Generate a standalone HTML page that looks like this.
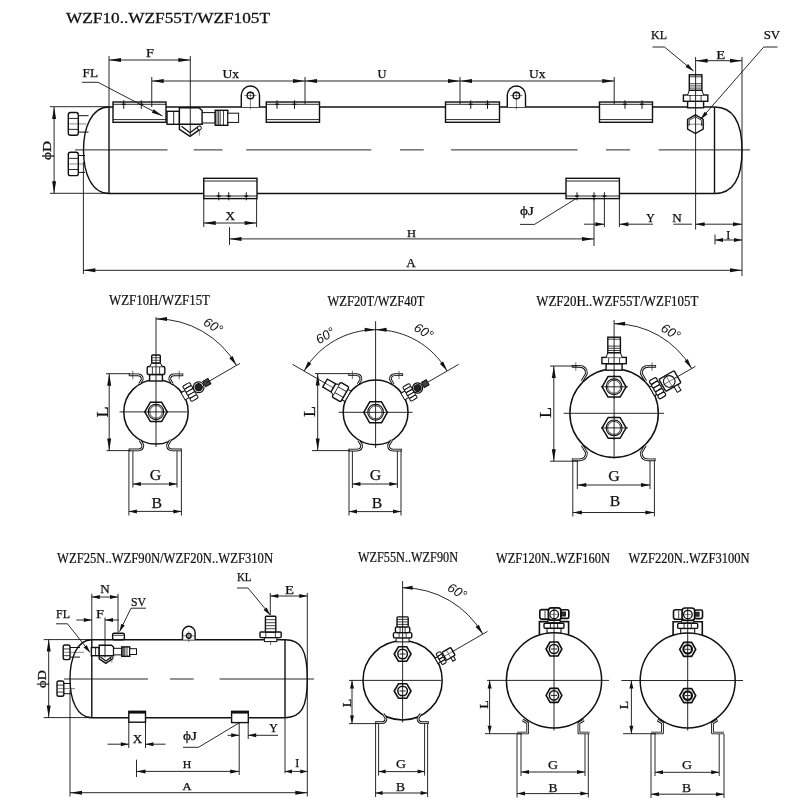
<!DOCTYPE html>
<html><head><meta charset="utf-8"><title>WZF receivers</title>
<style>
html,body{margin:0;padding:0;background:#fff;}
svg{display:block;filter:grayscale(1)}
text{font-family:"Liberation Serif",serif;}
</style></head><body>
<svg width="800" height="801" viewBox="0 0 800 801">
<rect x="0" y="0" width="800" height="801" fill="#fff" stroke="none"/>
<g stroke="#111" fill="none" stroke-linecap="butt">
<text stroke="#111" stroke-width="0.28" fill="#111" x="66.00" y="23.20" font-size="13.6" textLength="204" lengthAdjust="spacingAndGlyphs" >WZF10..WZF55T/WZF105T</text>
<line x1="109.00" y1="107.00" x2="714.50" y2="107.00" stroke-width="1.4" />
<line x1="109.00" y1="193.50" x2="714.50" y2="193.50" stroke-width="1.4" />
<line x1="109.00" y1="107.00" x2="109.00" y2="193.50" stroke-width="1.4" />
<line x1="714.50" y1="107.00" x2="714.50" y2="193.50" stroke-width="1.4" />
<path d="M109,107 C 92,107 83.5,127 83.5,150.2 C 83.5,174 92,193.5 109,193.5" stroke-width="1.4" fill="none" />
<path d="M714.5,107 C 733,107 742,122 742,150.2 C 742,179 733,193.5 714.5,193.5" stroke-width="1.4" fill="none" />
<line x1="75.00" y1="149.90" x2="167.50" y2="149.90" stroke-width="0.9" />
<line x1="193.75" y1="149.90" x2="222.50" y2="149.90" stroke-width="0.9" />
<line x1="246.25" y1="149.90" x2="371.25" y2="149.90" stroke-width="0.9" />
<line x1="400.00" y1="149.90" x2="423.75" y2="149.90" stroke-width="0.9" />
<line x1="451.00" y1="149.90" x2="577.50" y2="149.90" stroke-width="0.9" />
<line x1="606.00" y1="149.90" x2="630.00" y2="149.90" stroke-width="0.9" />
<line x1="658.75" y1="149.90" x2="750.00" y2="149.90" stroke-width="0.9" />
<rect x="113.00" y="102.00" width="53.00" height="20.30" stroke-width="1.4" fill="#fff" rx="0"/>
<line x1="113.00" y1="104.30" x2="166.00" y2="104.30" stroke-width="0.9" />
<line x1="113.00" y1="119.60" x2="166.00" y2="119.60" stroke-width="0.9" />
<line x1="123.75" y1="100.30" x2="123.75" y2="108.80" stroke-width="1.0" />
<line x1="121.75" y1="104.30" x2="125.75" y2="104.30" stroke-width="1.3" />
<line x1="141.25" y1="100.30" x2="141.25" y2="108.80" stroke-width="1.0" />
<line x1="139.25" y1="104.30" x2="143.25" y2="104.30" stroke-width="1.3" />
<rect x="266.25" y="102.00" width="53.25" height="20.30" stroke-width="1.4" fill="#fff" rx="0"/>
<line x1="266.25" y1="104.30" x2="319.50" y2="104.30" stroke-width="0.9" />
<line x1="266.25" y1="119.60" x2="319.50" y2="119.60" stroke-width="0.9" />
<line x1="277.00" y1="100.30" x2="277.00" y2="108.80" stroke-width="1.0" />
<line x1="275.00" y1="104.30" x2="279.00" y2="104.30" stroke-width="1.3" />
<line x1="294.50" y1="100.30" x2="294.50" y2="108.80" stroke-width="1.0" />
<line x1="292.50" y1="104.30" x2="296.50" y2="104.30" stroke-width="1.3" />
<rect x="445.50" y="102.00" width="54.00" height="20.30" stroke-width="1.4" fill="#fff" rx="0"/>
<line x1="445.50" y1="104.30" x2="499.50" y2="104.30" stroke-width="0.9" />
<line x1="445.50" y1="119.60" x2="499.50" y2="119.60" stroke-width="0.9" />
<line x1="470.75" y1="100.30" x2="470.75" y2="108.80" stroke-width="1.0" />
<line x1="468.75" y1="104.30" x2="472.75" y2="104.30" stroke-width="1.3" />
<line x1="487.50" y1="100.30" x2="487.50" y2="108.80" stroke-width="1.0" />
<line x1="485.50" y1="104.30" x2="489.50" y2="104.30" stroke-width="1.3" />
<rect x="599.50" y="102.00" width="53.00" height="20.30" stroke-width="1.4" fill="#fff" rx="0"/>
<line x1="599.50" y1="104.30" x2="652.50" y2="104.30" stroke-width="0.9" />
<line x1="599.50" y1="119.60" x2="652.50" y2="119.60" stroke-width="0.9" />
<line x1="625.00" y1="100.30" x2="625.00" y2="108.80" stroke-width="1.0" />
<line x1="623.00" y1="104.30" x2="627.00" y2="104.30" stroke-width="1.3" />
<line x1="642.00" y1="100.30" x2="642.00" y2="108.80" stroke-width="1.0" />
<line x1="640.00" y1="104.30" x2="644.00" y2="104.30" stroke-width="1.3" />
<rect x="203.75" y="178.30" width="53.25" height="20.30" stroke-width="1.4" fill="#fff" rx="0"/>
<line x1="203.75" y1="181.00" x2="257.00" y2="181.00" stroke-width="0.9" />
<line x1="203.75" y1="196.00" x2="257.00" y2="196.00" stroke-width="0.9" />
<line x1="218.75" y1="192.30" x2="218.75" y2="200.30" stroke-width="1.0" />
<line x1="216.75" y1="196.00" x2="220.75" y2="196.00" stroke-width="1.3" />
<line x1="228.75" y1="192.30" x2="228.75" y2="200.30" stroke-width="1.0" />
<line x1="226.75" y1="196.00" x2="230.75" y2="196.00" stroke-width="1.3" />
<line x1="246.25" y1="192.30" x2="246.25" y2="200.30" stroke-width="1.0" />
<line x1="244.25" y1="196.00" x2="248.25" y2="196.00" stroke-width="1.3" />
<rect x="566.00" y="178.30" width="53.40" height="20.30" stroke-width="1.4" fill="#fff" rx="0"/>
<line x1="566.00" y1="181.00" x2="619.40" y2="181.00" stroke-width="0.9" />
<line x1="566.00" y1="196.00" x2="619.40" y2="196.00" stroke-width="0.9" />
<line x1="577.00" y1="192.30" x2="577.00" y2="200.30" stroke-width="1.0" />
<line x1="575.00" y1="196.00" x2="579.00" y2="196.00" stroke-width="1.3" />
<line x1="594.00" y1="192.30" x2="594.00" y2="200.30" stroke-width="1.0" />
<line x1="592.00" y1="196.00" x2="596.00" y2="196.00" stroke-width="1.3" />
<line x1="604.40" y1="192.30" x2="604.40" y2="200.30" stroke-width="1.0" />
<line x1="602.40" y1="196.00" x2="606.40" y2="196.00" stroke-width="1.3" />
<path d="M241.3,107 L241.3,95.1 A9.1,9.1 0 0 1 259.5,95.1 L259.5,107" stroke-width="1.4" fill="#fff" />
<circle cx="250.40" cy="95.50" r="3.30" stroke-width="1.4" fill="none"/>
<line x1="244.40" y1="95.50" x2="256.40" y2="95.50" stroke-width="0.5" />
<line x1="250.40" y1="91.00" x2="250.40" y2="109.50" stroke-width="0.5" />
<path d="M507.29999999999995,107 L507.29999999999995,95.1 A9.1,9.1 0 0 1 525.5,95.1 L525.5,107" stroke-width="1.4" fill="#fff" />
<circle cx="516.40" cy="95.50" r="3.30" stroke-width="1.4" fill="none"/>
<line x1="510.40" y1="95.50" x2="522.40" y2="95.50" stroke-width="0.5" />
<line x1="516.40" y1="91.00" x2="516.40" y2="109.50" stroke-width="0.5" />
<line x1="78.30" y1="115.70" x2="88.50" y2="115.70" stroke-width="1.0" />
<line x1="78.30" y1="132.10" x2="88.50" y2="132.10" stroke-width="1.0" />
<rect x="68.30" y="112.50" width="10.00" height="22.80" stroke-width="1.4" fill="#fff" rx="2.2"/>
<line x1="68.30" y1="118.43" x2="78.30" y2="118.43" stroke-width="0.9" />
<line x1="68.30" y1="129.37" x2="78.30" y2="129.37" stroke-width="0.9" />
<line x1="69.30" y1="123.90" x2="86.50" y2="123.90" stroke-width="0.5" />
<line x1="78.30" y1="155.50" x2="85.00" y2="155.50" stroke-width="1.0" />
<line x1="78.30" y1="172.40" x2="85.00" y2="172.40" stroke-width="1.0" />
<rect x="68.30" y="152.30" width="10.00" height="23.30" stroke-width="1.4" fill="#fff" rx="2.2"/>
<line x1="68.30" y1="158.36" x2="78.30" y2="158.36" stroke-width="0.9" />
<line x1="68.30" y1="169.54" x2="78.30" y2="169.54" stroke-width="0.9" />
<line x1="69.30" y1="163.95" x2="83.00" y2="163.95" stroke-width="0.5" />
<rect x="167.00" y="111.30" width="12.40" height="13.00" stroke-width="1.4" fill="#fff" rx="0"/>
<line x1="173.70" y1="111.30" x2="173.70" y2="124.30" stroke-width="0.9" />
<path d="M179.4,107.8 L199.0,107.8 L202.2,110.8 L202.2,124.3 L179.4,124.3 Z" stroke-width="1.4" fill="#fff" />
<path d="M179.4,124.3 L179.4,129.3 L190.0,136.4 L200.0,129.3 L200.0,125.8" stroke-width="1.4" fill="none" />
<path d="M181.5,126.3 L190.0,132.8 L198.0,126.8" stroke-width="1.2" fill="none" />
<circle cx="199.40" cy="128.00" r="2.00" stroke-width="1.0" fill="#fff"/>
<line x1="199.40" y1="129.80" x2="199.40" y2="135.80" stroke-width="0.5" />
<rect x="202.20" y="112.60" width="13.00" height="10.40" stroke-width="1.0" fill="#fff" rx="0"/>
<rect x="215.20" y="110.30" width="12.60" height="15.00" stroke-width="1.4" fill="#fff" rx="0"/>
<line x1="217.00" y1="110.30" x2="217.00" y2="125.30" stroke-width="0.8" />
<line x1="218.60" y1="110.30" x2="218.60" y2="125.30" stroke-width="0.8" />
<line x1="220.20" y1="110.30" x2="220.20" y2="125.30" stroke-width="0.8" />
<line x1="223.50" y1="110.30" x2="223.50" y2="125.30" stroke-width="0.8" />
<rect x="227.80" y="113.20" width="10.80" height="9.20" stroke-width="1.0" fill="#fff" rx="0"/>
<rect x="687.60" y="101.30" width="16.00" height="6.50" stroke-width="1.4" fill="#fff" rx="0"/>
<rect x="683.40" y="95.00" width="24.40" height="6.30" stroke-width="1.4" fill="#fff" rx="0"/>
<line x1="690.10" y1="95.00" x2="690.10" y2="101.30" stroke-width="0.8" />
<line x1="701.10" y1="95.00" x2="701.10" y2="101.30" stroke-width="0.8" />
<path d="M687.6,95.0 L689.3000000000001,90.3 L701.9,90.3 L703.6,95.0" stroke-width="1.0" fill="#fff" />
<rect x="689.30" y="74.80" width="12.60" height="15.50" stroke-width="1.4" fill="#fff" rx="0"/>
<line x1="689.30" y1="88.10" x2="701.90" y2="88.10" stroke-width="0.8" />
<line x1="689.30" y1="85.90" x2="701.90" y2="85.90" stroke-width="0.8" />
<line x1="689.30" y1="83.70" x2="701.90" y2="83.70" stroke-width="0.8" />
<line x1="689.30" y1="76.80" x2="701.90" y2="76.80" stroke-width="0.8" />
<polygon points="695.40,114.90 703.20,119.40 703.20,129.00 695.40,133.50 687.60,129.00 687.60,119.40" stroke-width="1.4" fill="#fff"/>
<path d="M689.1999999999999,126.0 L689.1999999999999,120.4 L695.4,116.8 L701.6,120.4 L701.6,126.0" stroke-width="0.8" fill="none" />
<line x1="686.40" y1="124.20" x2="704.40" y2="124.20" stroke-width="0.5" />
<line x1="50.00" y1="106.70" x2="109.00" y2="106.70" stroke-width="0.9" />
<line x1="50.00" y1="193.30" x2="109.00" y2="193.30" stroke-width="0.9" />
<line x1="54.10" y1="107.00" x2="54.10" y2="193.30" stroke-width="0.9" />
<polygon points="54.10,107.00 56.10,119.00 52.10,119.00" fill="#111" stroke="none"/>
<polygon points="54.10,193.30 52.10,181.30 56.10,181.30" fill="#111" stroke="none"/>
<text stroke="#111" stroke-width="0.25" fill="#111" x="51.30" y="150.50" font-size="13" text-anchor="middle" textLength="19" lengthAdjust="spacingAndGlyphs" transform="rotate(-90 51.30 150.50)" >ϕD</text>
<line x1="109.00" y1="56.00" x2="109.00" y2="107.00" stroke-width="0.9" />
<line x1="190.30" y1="56.00" x2="190.30" y2="135.00" stroke-width="0.9" />
<line x1="109.00" y1="60.00" x2="190.30" y2="60.00" stroke-width="0.9" />
<polygon points="109.00,60.00 121.00,58.00 121.00,62.00" fill="#111" stroke="none"/>
<polygon points="190.30,60.00 178.30,62.00 178.30,58.00" fill="#111" stroke="none"/>
<text stroke="#111" stroke-width="0.25" fill="#111" x="150.00" y="57.30" font-size="12" text-anchor="middle" textLength="8" lengthAdjust="spacingAndGlyphs" >F</text>
<text stroke="#111" stroke-width="0.25" fill="#111" x="82.50" y="77.00" font-size="12" textLength="15.5" lengthAdjust="spacingAndGlyphs" >FL</text>
<path d="M82,82.3 L98,82.3 L162.5,116" stroke-width="0.9" fill="none" />
<polygon points="162.50,116.00 151.83,112.68 153.68,109.13" fill="#111" stroke="none"/>
<line x1="151.75" y1="77.00" x2="151.75" y2="107.00" stroke-width="0.9" />
<line x1="305.00" y1="77.00" x2="305.00" y2="104.00" stroke-width="0.9" />
<line x1="460.00" y1="77.00" x2="460.00" y2="104.00" stroke-width="0.9" />
<line x1="614.20" y1="77.00" x2="614.20" y2="104.00" stroke-width="0.9" />
<line x1="151.75" y1="81.00" x2="305.00" y2="81.00" stroke-width="0.9" />
<polygon points="151.75,81.00 163.75,79.00 163.75,83.00" fill="#111" stroke="none"/>
<polygon points="305.00,81.00 293.00,83.00 293.00,79.00" fill="#111" stroke="none"/>
<line x1="305.00" y1="81.00" x2="460.00" y2="81.00" stroke-width="0.9" />
<polygon points="305.00,81.00 317.00,79.00 317.00,83.00" fill="#111" stroke="none"/>
<polygon points="460.00,81.00 448.00,83.00 448.00,79.00" fill="#111" stroke="none"/>
<line x1="460.00" y1="81.00" x2="614.20" y2="81.00" stroke-width="0.9" />
<polygon points="460.00,81.00 472.00,79.00 472.00,83.00" fill="#111" stroke="none"/>
<polygon points="614.20,81.00 602.20,83.00 602.20,79.00" fill="#111" stroke="none"/>
<text stroke="#111" stroke-width="0.25" fill="#111" x="222.50" y="78.30" font-size="12" textLength="16.5" lengthAdjust="spacingAndGlyphs" >Ux</text>
<text stroke="#111" stroke-width="0.25" fill="#111" x="382.00" y="77.50" font-size="12" text-anchor="middle" textLength="9" lengthAdjust="spacingAndGlyphs" >U</text>
<text stroke="#111" stroke-width="0.25" fill="#111" x="529.00" y="78.30" font-size="12" textLength="16.5" lengthAdjust="spacingAndGlyphs" >Ux</text>
<line x1="695.60" y1="57.00" x2="695.60" y2="229.50" stroke-width="0.9" />
<line x1="742.00" y1="57.00" x2="742.00" y2="276.00" stroke-width="0.9" />
<line x1="695.60" y1="60.70" x2="742.00" y2="60.70" stroke-width="0.9" />
<polygon points="695.60,60.70 707.60,58.70 707.60,62.70" fill="#111" stroke="none"/>
<polygon points="742.00,60.70 730.00,62.70 730.00,58.70" fill="#111" stroke="none"/>
<text stroke="#111" stroke-width="0.25" fill="#111" x="720.70" y="58.70" font-size="12" text-anchor="middle" textLength="9" lengthAdjust="spacingAndGlyphs" >E</text>
<text stroke="#111" stroke-width="0.25" fill="#111" x="651.00" y="38.70" font-size="12" textLength="16" lengthAdjust="spacingAndGlyphs" >KL</text>
<path d="M652.5,47 L664.5,47 L693.5,71" stroke-width="0.9" fill="none" />
<polygon points="693.70,71.20 685.49,67.00 688.04,63.92" fill="#111" stroke="none"/>
<text stroke="#111" stroke-width="0.25" fill="#111" x="763.70" y="38.70" font-size="12" textLength="16.5" lengthAdjust="spacingAndGlyphs" >SV</text>
<path d="M777.5,47 L763.75,47 L700.4,119.5" stroke-width="0.9" fill="none" />
<polygon points="700.20,119.80 704.61,111.70 707.62,114.33" fill="#111" stroke="none"/>
<line x1="203.75" y1="199.00" x2="203.75" y2="227.00" stroke-width="0.9" />
<line x1="256.60" y1="199.00" x2="256.60" y2="227.00" stroke-width="0.9" />
<line x1="203.75" y1="223.00" x2="256.60" y2="223.00" stroke-width="0.9" />
<polygon points="203.75,223.00 215.75,221.00 215.75,225.00" fill="#111" stroke="none"/>
<polygon points="256.60,223.00 244.60,225.00 244.60,221.00" fill="#111" stroke="none"/>
<text stroke="#111" stroke-width="0.25" fill="#111" x="230.30" y="220.00" font-size="12" text-anchor="middle" textLength="9.5" lengthAdjust="spacingAndGlyphs" >X</text>
<line x1="229.50" y1="227.00" x2="229.50" y2="245.00" stroke-width="0.9" />
<line x1="594.00" y1="198.60" x2="594.00" y2="246.00" stroke-width="0.9" />
<line x1="229.50" y1="238.90" x2="594.00" y2="238.90" stroke-width="0.9" />
<polygon points="229.50,238.90 241.50,236.90 241.50,240.90" fill="#111" stroke="none"/>
<polygon points="594.00,238.90 582.00,240.90 582.00,236.90" fill="#111" stroke="none"/>
<text stroke="#111" stroke-width="0.25" fill="#111" x="411.50" y="236.80" font-size="11" text-anchor="middle" textLength="9" lengthAdjust="spacingAndGlyphs" >H</text>
<text stroke="#111" stroke-width="0.25" fill="#111" x="520.00" y="215.30" font-size="12" textLength="14" lengthAdjust="spacingAndGlyphs" >ϕJ</text>
<path d="M520,224.4 L534.5,224.4 L576.5,198.3" stroke-width="0.9" fill="none" />
<line x1="604.40" y1="198.60" x2="604.40" y2="227.00" stroke-width="0.9" />
<line x1="619.40" y1="198.60" x2="619.40" y2="227.00" stroke-width="0.9" />
<line x1="584.00" y1="224.20" x2="604.40" y2="224.20" stroke-width="0.9" />
<polygon points="604.40,224.20 595.40,226.20 595.40,222.20" fill="#111" stroke="none"/>
<line x1="619.40" y1="224.20" x2="653.00" y2="224.20" stroke-width="0.9" />
<polygon points="619.40,224.20 628.40,222.20 628.40,226.20" fill="#111" stroke="none"/>
<text stroke="#111" stroke-width="0.25" fill="#111" x="650.50" y="222.00" font-size="12" text-anchor="middle" textLength="8.5" lengthAdjust="spacingAndGlyphs" >Y</text>
<line x1="673.40" y1="224.20" x2="692.00" y2="224.20" stroke-width="0.9" />
<line x1="695.60" y1="224.20" x2="742.00" y2="224.20" stroke-width="0.9" />
<polygon points="695.60,224.20 704.60,222.20 704.60,226.20" fill="#111" stroke="none"/>
<polygon points="742.00,224.20 733.00,226.20 733.00,222.20" fill="#111" stroke="none"/>
<text stroke="#111" stroke-width="0.25" fill="#111" x="677.00" y="222.00" font-size="12" text-anchor="middle" textLength="9.5" lengthAdjust="spacingAndGlyphs" >N</text>
<line x1="715.00" y1="234.60" x2="715.00" y2="244.50" stroke-width="0.9" />
<line x1="715.00" y1="240.00" x2="742.00" y2="240.00" stroke-width="0.9" />
<polygon points="715.00,240.00 723.00,238.00 723.00,242.00" fill="#111" stroke="none"/>
<polygon points="742.00,240.00 734.00,242.00 734.00,238.00" fill="#111" stroke="none"/>
<text stroke="#111" stroke-width="0.25" fill="#111" x="728.30" y="238.80" font-size="12" text-anchor="middle" >I</text>
<line x1="83.40" y1="162.00" x2="83.40" y2="274.00" stroke-width="0.9" />
<line x1="83.40" y1="270.30" x2="742.00" y2="270.30" stroke-width="0.9" />
<polygon points="83.40,270.30 95.40,268.30 95.40,272.30" fill="#111" stroke="none"/>
<polygon points="742.00,270.30 730.00,272.30 730.00,268.30" fill="#111" stroke="none"/>
<text stroke="#111" stroke-width="0.25" fill="#111" x="411.00" y="267.30" font-size="11.5" text-anchor="middle" textLength="9.5" lengthAdjust="spacingAndGlyphs" >A</text>
<text stroke="#111" stroke-width="0.22" fill="#111" x="109.00" y="305.00" font-size="14" textLength="101" lengthAdjust="spacingAndGlyphs" >WZF10H/WZF15T</text>
<circle cx="156.00" cy="411.90" r="32.20" stroke-width="1.5" fill="#fff"/>
<rect x="149.60" y="374.50" width="12.80" height="6.50" stroke-width="1.4" fill="#fff" rx="0"/>
<rect x="147.20" y="366.50" width="17.60" height="8.00" stroke-width="1.4" fill="#fff" rx="1.5"/>
<line x1="152.40" y1="366.50" x2="152.40" y2="374.50" stroke-width="0.8" />
<line x1="159.60" y1="366.50" x2="159.60" y2="374.50" stroke-width="0.8" />
<path d="M150.0,366.5 L151.6,363.0 L160.4,363.0 L162.0,366.5" stroke-width="1.0" fill="#fff" />
<rect x="151.70" y="355.00" width="8.60" height="8.00" stroke-width="1.4" fill="#fff" rx="1"/>
<line x1="151.70" y1="360.30" x2="160.30" y2="360.30" stroke-width="0.7" />
<line x1="151.70" y1="357.70" x2="160.30" y2="357.70" stroke-width="0.7" />
<path d="M129.4,374.8 l8.5,0 q4.37,0 4.37,4.6 l-2.76,4.6" stroke-width="2.7" fill="none" stroke-linejoin="round"/>
<path d="M129.4,374.8 l8.5,0 q4.37,0 4.37,4.6 l-2.76,4.6" stroke-width="0.9" fill="none" stroke="#fff" stroke-linejoin="round"/>
<line x1="129.20" y1="373.45" x2="129.20" y2="376.15" stroke-width="0.9" />
<line x1="132.80" y1="370.80" x2="132.80" y2="379.30" stroke-width="0.6" />
<path d="M182.6,374.8 l-8.5,0 q-4.37,0 -4.37,4.6 l2.76,4.6" stroke-width="2.7" fill="none" stroke-linejoin="round"/>
<path d="M182.6,374.8 l-8.5,0 q-4.37,0 -4.37,4.6 l2.76,4.6" stroke-width="0.9" fill="none" stroke="#fff" stroke-linejoin="round"/>
<line x1="182.80" y1="373.45" x2="182.80" y2="376.15" stroke-width="0.9" />
<line x1="179.20" y1="370.80" x2="179.20" y2="379.30" stroke-width="0.6" />
<path d="M129.2,449.9 l9,0 q4.66,0 4.66,-4.9 l-2.94,-4.9" stroke-width="2.7" fill="none" stroke-linejoin="round"/>
<path d="M129.2,449.9 l9,0 q4.66,0 4.66,-4.9 l-2.94,-4.9" stroke-width="0.9" fill="none" stroke="#fff" stroke-linejoin="round"/>
<line x1="129.00" y1="448.55" x2="129.00" y2="451.25" stroke-width="0.9" />
<path d="M181.2,449.9 l-9,0 q-4.66,0 -4.66,-4.9 l2.94,-4.9" stroke-width="2.7" fill="none" stroke-linejoin="round"/>
<path d="M181.2,449.9 l-9,0 q-4.66,0 -4.66,-4.9 l2.94,-4.9" stroke-width="0.9" fill="none" stroke="#fff" stroke-linejoin="round"/>
<line x1="181.40" y1="448.55" x2="181.40" y2="451.25" stroke-width="0.9" />
<line x1="119.60" y1="411.90" x2="187.50" y2="411.90" stroke-width="0.9" />
<line x1="156.00" y1="317.00" x2="156.00" y2="447.00" stroke-width="0.9" />
<polygon points="144.80,411.90 150.40,402.20 161.60,402.20 167.20,411.90 161.60,421.60 150.40,421.60" stroke-width="1.5" fill="#fff" stroke-linejoin="round"/>
<circle cx="156.00" cy="411.90" r="7.70" stroke-width="1.1" fill="none"/>
<circle cx="156.00" cy="411.90" r="6.30" stroke-width="0.8" fill="none"/>
<line x1="144.00" y1="411.90" x2="168.00" y2="411.90" stroke-width="0.9" />
<line x1="156.00" y1="401.00" x2="156.00" y2="423.00" stroke-width="0.9" />
<g transform="translate(156.00 411.90) rotate(-30)">
<rect x="31.20" y="-4.13" width="5.00" height="8.26" stroke-width="1.0" fill="#fff" rx="0"/>
<rect x="35.70" y="-8.85" width="8.26" height="3.54" stroke-width="1.0" fill="#fff" rx="1.3"/>
<rect x="35.70" y="-5.31" width="8.26" height="3.54" stroke-width="1.0" fill="#fff" rx="1.3"/>
<rect x="35.70" y="-1.77" width="8.26" height="3.54" stroke-width="1.0" fill="#fff" rx="1.3"/>
<rect x="35.70" y="1.77" width="8.26" height="3.54" stroke-width="1.0" fill="#fff" rx="1.3"/>
<rect x="35.70" y="5.31" width="8.26" height="3.54" stroke-width="1.0" fill="#fff" rx="1.3"/>
<circle cx="49.27" cy="0.00" r="5.43" stroke-width="1.2" fill="#fff"/>
<circle cx="49.27" cy="0.00" r="3.66" stroke-width="1.0" fill="#222"/>
<rect x="55.76" y="-3.07" width="5.90" height="6.14" stroke-width="1.0" fill="#444" rx="0"/>
</g>
<path d="M156.00,318.90 A93,93 0 0 1 236.54,365.40" stroke-width="0.9" fill="none" />
<polygon points="156.00,318.90 167.00,316.90 167.00,320.90" fill="#111" stroke="none"/>
<polygon points="236.54,365.40 229.29,358.23 232.61,355.99" fill="#111" stroke="none"/>
<line x1="206.23" y1="382.90" x2="240.00" y2="363.40" stroke-width="0.9" />
<text stroke="#111" stroke-width="0" fill="#111" x="211.00" y="329.50" font-size="13" text-anchor="middle" transform="rotate(31 211.00 329.50)" style='font-family:"Liberation Sans",sans-serif' font-style="italic">60°</text>
<line x1="106.00" y1="373.70" x2="130.00" y2="373.70" stroke-width="0.9" />
<line x1="106.60" y1="450.60" x2="131.00" y2="450.60" stroke-width="0.9" />
<line x1="109.20" y1="373.70" x2="109.20" y2="450.60" stroke-width="0.9" />
<polygon points="109.20,373.70 111.20,385.70 107.20,385.70" fill="#111" stroke="none"/>
<polygon points="109.20,450.60 107.20,438.60 111.20,438.60" fill="#111" stroke="none"/>
<text stroke="#111" stroke-width="0.25" fill="#111" x="107.50" y="412.00" font-size="16" text-anchor="middle" textLength="11" lengthAdjust="spacingAndGlyphs" transform="rotate(-90 107.50 412.00)" >L</text>
<line x1="132.90" y1="451.00" x2="132.90" y2="487.50" stroke-width="0.9" />
<line x1="177.00" y1="451.00" x2="177.00" y2="487.50" stroke-width="0.9" />
<line x1="132.90" y1="484.00" x2="177.00" y2="484.00" stroke-width="0.9" />
<polygon points="132.90,484.00 140.90,482.00 140.90,486.00" fill="#111" stroke="none"/>
<polygon points="177.00,484.00 169.00,486.00 169.00,482.00" fill="#111" stroke="none"/>
<line x1="128.90" y1="451.00" x2="128.90" y2="515.50" stroke-width="0.9" />
<line x1="181.40" y1="451.00" x2="181.40" y2="515.50" stroke-width="0.9" />
<line x1="128.90" y1="511.40" x2="181.40" y2="511.40" stroke-width="0.9" />
<polygon points="128.90,511.40 136.90,509.40 136.90,513.40" fill="#111" stroke="none"/>
<polygon points="181.40,511.40 173.40,513.40 173.40,509.40" fill="#111" stroke="none"/>
<text stroke="#111" stroke-width="0.25" fill="#111" x="155.60" y="479.60" font-size="15" text-anchor="middle" textLength="11.5" lengthAdjust="spacingAndGlyphs" >G</text>
<text stroke="#111" stroke-width="0.25" fill="#111" x="156.80" y="508.00" font-size="15" text-anchor="middle" textLength="10.5" lengthAdjust="spacingAndGlyphs" >B</text>
<text stroke="#111" stroke-width="0.22" fill="#111" x="327.50" y="305.50" font-size="14" textLength="97" lengthAdjust="spacingAndGlyphs" >WZF20T/WZF40T</text>
<circle cx="375.60" cy="412.30" r="32.40" stroke-width="1.5" fill="#fff"/>
<path d="M349,374.7 l7.5,0 q4.46,0 4.46,4.7 l-2.82,4.7" stroke-width="2.7" fill="none" stroke-linejoin="round"/>
<path d="M349,374.7 l7.5,0 q4.46,0 4.46,4.7 l-2.82,4.7" stroke-width="0.9" fill="none" stroke="#fff" stroke-linejoin="round"/>
<line x1="348.80" y1="373.35" x2="348.80" y2="376.05" stroke-width="0.9" />
<line x1="352.40" y1="370.70" x2="352.40" y2="379.20" stroke-width="0.6" />
<path d="M402.4,374.7 l-7.5,0 q-4.46,0 -4.46,4.7 l2.82,4.7" stroke-width="2.7" fill="none" stroke-linejoin="round"/>
<path d="M402.4,374.7 l-7.5,0 q-4.46,0 -4.46,4.7 l2.82,4.7" stroke-width="0.9" fill="none" stroke="#fff" stroke-linejoin="round"/>
<line x1="402.60" y1="373.35" x2="402.60" y2="376.05" stroke-width="0.9" />
<line x1="399.00" y1="370.70" x2="399.00" y2="379.20" stroke-width="0.6" />
<path d="M349,450.1 l8,0 q4.66,0 4.66,-4.9 l-2.94,-4.9" stroke-width="2.7" fill="none" stroke-linejoin="round"/>
<path d="M349,450.1 l8,0 q4.66,0 4.66,-4.9 l-2.94,-4.9" stroke-width="0.9" fill="none" stroke="#fff" stroke-linejoin="round"/>
<line x1="348.80" y1="448.75" x2="348.80" y2="451.45" stroke-width="0.9" />
<path d="M401.2,450.1 l-8,0 q-4.66,0 -4.66,-4.9 l2.94,-4.9" stroke-width="2.7" fill="none" stroke-linejoin="round"/>
<path d="M401.2,450.1 l-8,0 q-4.66,0 -4.66,-4.9 l2.94,-4.9" stroke-width="0.9" fill="none" stroke="#fff" stroke-linejoin="round"/>
<line x1="401.40" y1="448.75" x2="401.40" y2="451.45" stroke-width="0.9" />
<line x1="338.70" y1="412.30" x2="412.50" y2="412.30" stroke-width="0.9" />
<line x1="375.60" y1="321.20" x2="375.60" y2="448.00" stroke-width="0.9" />
<polygon points="363.80,412.30 369.70,401.80 381.50,401.80 387.40,412.30 381.50,422.80 369.70,422.80" stroke-width="1.5" fill="#fff" stroke-linejoin="round"/>
<circle cx="375.60" cy="412.30" r="7.90" stroke-width="1.1" fill="none"/>
<circle cx="375.60" cy="412.30" r="6.50" stroke-width="0.8" fill="none"/>
<line x1="363.00" y1="412.30" x2="388.00" y2="412.30" stroke-width="0.9" />
<line x1="375.60" y1="400.00" x2="375.60" y2="424.00" stroke-width="0.9" />
<g transform="translate(375.60 412.30) rotate(-30)">
<rect x="31.40" y="-3.85" width="5.00" height="7.70" stroke-width="1.0" fill="#fff" rx="0"/>
<rect x="35.90" y="-8.25" width="7.70" height="3.30" stroke-width="1.0" fill="#fff" rx="1.3"/>
<rect x="35.90" y="-4.95" width="7.70" height="3.30" stroke-width="1.0" fill="#fff" rx="1.3"/>
<rect x="35.90" y="-1.65" width="7.70" height="3.30" stroke-width="1.0" fill="#fff" rx="1.3"/>
<rect x="35.90" y="1.65" width="7.70" height="3.30" stroke-width="1.0" fill="#fff" rx="1.3"/>
<rect x="35.90" y="4.95" width="7.70" height="3.30" stroke-width="1.0" fill="#fff" rx="1.3"/>
<circle cx="48.55" cy="0.00" r="5.06" stroke-width="1.2" fill="#fff"/>
<circle cx="48.55" cy="0.00" r="3.41" stroke-width="1.0" fill="#222"/>
<rect x="54.60" y="-2.86" width="5.50" height="5.72" stroke-width="1.0" fill="#444" rx="0"/>
</g>
<g transform="translate(375.60 412.30) rotate(-150)">
<rect x="31.90" y="-6.00" width="3.60" height="12.00" stroke-width="1.0" fill="#fff" rx="0"/>
<rect x="35.50" y="-8.50" width="10.00" height="17.00" stroke-width="1.4" fill="#fff" rx="1.5"/>
<line x1="35.50" y1="-3.30" x2="45.50" y2="-3.30" stroke-width="0.8" />
<line x1="35.50" y1="3.30" x2="45.50" y2="3.30" stroke-width="0.8" />
<path d="M45.5,-6 L48.9,-4.5 L48.9,4.5 L45.5,6" stroke-width="1.0" fill="#fff" />
<rect x="48.90" y="-4.60" width="9.50" height="9.20" stroke-width="1.4" fill="#fff" rx="0"/>
<line x1="48.90" y1="0.00" x2="58.40" y2="0.00" stroke-width="0.6" />
</g>
<path d="M304.07,371.00 A82.6,82.6 0 0 1 447.13,371.00" stroke-width="0.9" fill="none" />
<polygon points="375.60,329.70 386.60,327.70 386.60,331.70" fill="#111" stroke="none"/>
<polygon points="375.60,329.70 364.60,331.70 364.60,327.70" fill="#111" stroke="none"/>
<polygon points="447.13,371.00 439.88,363.83 443.20,361.59" fill="#111" stroke="none"/>
<polygon points="304.07,371.00 308.00,361.59 311.32,363.83" fill="#111" stroke="none"/>
<line x1="427.56" y1="382.30" x2="458.74" y2="364.30" stroke-width="0.9" />
<line x1="325.37" y1="383.30" x2="292.46" y2="364.30" stroke-width="0.9" />
<text stroke="#111" stroke-width="0" fill="#111" x="327.50" y="339.50" font-size="13" text-anchor="middle" transform="rotate(-31 327.50 339.50)" style='font-family:"Liberation Sans",sans-serif' font-style="italic">60°</text>
<text stroke="#111" stroke-width="0" fill="#111" x="421.50" y="335.00" font-size="13" text-anchor="middle" transform="rotate(31 421.50 335.00)" style='font-family:"Liberation Sans",sans-serif' font-style="italic">60°</text>
<line x1="315.00" y1="373.60" x2="349.00" y2="373.60" stroke-width="0.9" />
<line x1="312.00" y1="450.60" x2="350.00" y2="450.60" stroke-width="0.9" />
<line x1="317.70" y1="373.60" x2="317.70" y2="450.60" stroke-width="0.9" />
<polygon points="317.70,373.60 319.70,385.60 315.70,385.60" fill="#111" stroke="none"/>
<polygon points="317.70,450.60 315.70,438.60 319.70,438.60" fill="#111" stroke="none"/>
<text stroke="#111" stroke-width="0.25" fill="#111" x="315.00" y="411.50" font-size="16" text-anchor="middle" textLength="11" lengthAdjust="spacingAndGlyphs" transform="rotate(-90 315.00 411.50)" >L</text>
<line x1="352.40" y1="451.00" x2="352.40" y2="488.00" stroke-width="0.9" />
<line x1="397.40" y1="451.00" x2="397.40" y2="488.00" stroke-width="0.9" />
<line x1="352.40" y1="484.00" x2="397.40" y2="484.00" stroke-width="0.9" />
<polygon points="352.40,484.00 360.40,482.00 360.40,486.00" fill="#111" stroke="none"/>
<polygon points="397.40,484.00 389.40,486.00 389.40,482.00" fill="#111" stroke="none"/>
<line x1="349.00" y1="451.00" x2="349.00" y2="515.50" stroke-width="0.9" />
<line x1="401.00" y1="451.00" x2="401.00" y2="515.50" stroke-width="0.9" />
<line x1="349.00" y1="511.60" x2="401.00" y2="511.60" stroke-width="0.9" />
<polygon points="349.00,511.60 357.00,509.60 357.00,513.60" fill="#111" stroke="none"/>
<polygon points="401.00,511.60 393.00,513.60 393.00,509.60" fill="#111" stroke="none"/>
<text stroke="#111" stroke-width="0.25" fill="#111" x="375.60" y="480.00" font-size="15" text-anchor="middle" textLength="11.5" lengthAdjust="spacingAndGlyphs" >G</text>
<text stroke="#111" stroke-width="0.25" fill="#111" x="377.00" y="508.30" font-size="15" text-anchor="middle" textLength="10.5" lengthAdjust="spacingAndGlyphs" >B</text>
<text stroke="#111" stroke-width="0.22" fill="#111" x="536.30" y="306.00" font-size="14" textLength="162" lengthAdjust="spacingAndGlyphs" >WZF20H..WZF55T/WZF105T</text>
<circle cx="614.10" cy="413.30" r="44.20" stroke-width="1.5" fill="#fff"/>
<rect x="606.10" y="363.70" width="16.00" height="6.50" stroke-width="1.4" fill="#fff" rx="0"/>
<rect x="601.90" y="357.40" width="24.40" height="6.30" stroke-width="1.4" fill="#fff" rx="0"/>
<line x1="608.60" y1="357.40" x2="608.60" y2="363.70" stroke-width="0.8" />
<line x1="619.60" y1="357.40" x2="619.60" y2="363.70" stroke-width="0.8" />
<path d="M606.1,357.40000000000003 L607.8000000000001,352.70000000000005 L620.4,352.70000000000005 L622.1,357.40000000000003" stroke-width="1.0" fill="#fff" />
<rect x="607.80" y="337.20" width="12.60" height="15.50" stroke-width="1.4" fill="#fff" rx="0"/>
<line x1="607.80" y1="350.50" x2="620.40" y2="350.50" stroke-width="0.8" />
<line x1="607.80" y1="348.30" x2="620.40" y2="348.30" stroke-width="0.8" />
<line x1="607.80" y1="346.10" x2="620.40" y2="346.10" stroke-width="0.8" />
<line x1="607.80" y1="339.20" x2="620.40" y2="339.20" stroke-width="0.8" />
<path d="M572.4,366.3 l7,0 q7.03,0 7.03,7.4 l-4.44,7.4" stroke-width="2.7" fill="none" stroke-linejoin="round"/>
<path d="M572.4,366.3 l7,0 q7.03,0 7.03,7.4 l-4.44,7.4" stroke-width="0.9" fill="none" stroke="#fff" stroke-linejoin="round"/>
<line x1="572.20" y1="364.95" x2="572.20" y2="367.65" stroke-width="0.9" />
<line x1="575.80" y1="362.30" x2="575.80" y2="370.80" stroke-width="0.6" />
<path d="M655.4,366.3 l-7,0 q-7.03,0 -7.03,7.4 l4.44,7.4" stroke-width="2.7" fill="none" stroke-linejoin="round"/>
<path d="M655.4,366.3 l-7,0 q-7.03,0 -7.03,7.4 l4.44,7.4" stroke-width="0.9" fill="none" stroke="#fff" stroke-linejoin="round"/>
<line x1="655.60" y1="364.95" x2="655.60" y2="367.65" stroke-width="0.9" />
<line x1="652.00" y1="362.30" x2="652.00" y2="370.80" stroke-width="0.6" />
<path d="M572.6,459.8 l7,0 q6.84,0 6.84,-7.2 l-4.32,-7.2" stroke-width="2.7" fill="none" stroke-linejoin="round"/>
<path d="M572.6,459.8 l7,0 q6.84,0 6.84,-7.2 l-4.32,-7.2" stroke-width="0.9" fill="none" stroke="#fff" stroke-linejoin="round"/>
<line x1="572.40" y1="458.45" x2="572.40" y2="461.15" stroke-width="0.9" />
<path d="M655,459.8 l-7,0 q-6.84,0 -6.84,-7.2 l4.32,-7.2" stroke-width="2.7" fill="none" stroke-linejoin="round"/>
<path d="M655,459.8 l-7,0 q-6.84,0 -6.84,-7.2 l4.32,-7.2" stroke-width="0.9" fill="none" stroke="#fff" stroke-linejoin="round"/>
<line x1="655.20" y1="458.45" x2="655.20" y2="461.15" stroke-width="0.9" />
<line x1="563.70" y1="413.30" x2="664.00" y2="413.30" stroke-width="0.9" />
<line x1="614.10" y1="320.00" x2="614.10" y2="458.50" stroke-width="0.9" />
<polygon points="602.10,386.80 608.10,376.50 620.10,376.50 626.10,386.80 620.10,397.10 608.10,397.10" stroke-width="1.5" fill="#fff" stroke-linejoin="round"/>
<circle cx="614.10" cy="386.80" r="7.90" stroke-width="1.1" fill="none"/>
<circle cx="614.10" cy="386.80" r="6.50" stroke-width="0.8" fill="none"/>
<polygon points="602.10,427.90 608.10,417.60 620.10,417.60 626.10,427.90 620.10,438.20 608.10,438.20" stroke-width="1.5" fill="#fff" stroke-linejoin="round"/>
<circle cx="614.10" cy="427.90" r="7.90" stroke-width="1.1" fill="none"/>
<circle cx="614.10" cy="427.90" r="6.50" stroke-width="0.8" fill="none"/>
<line x1="601.00" y1="386.80" x2="628.00" y2="386.80" stroke-width="0.9" />
<line x1="614.10" y1="375.00" x2="614.10" y2="399.00" stroke-width="0.9" />
<line x1="601.00" y1="427.90" x2="628.00" y2="427.90" stroke-width="0.9" />
<line x1="614.10" y1="416.00" x2="614.10" y2="440.00" stroke-width="0.9" />
<g transform="translate(614.10 413.30) rotate(-30)">
<rect x="43.70" y="-5.00" width="3.00" height="10.00" stroke-width="1.0" fill="#fff" rx="0"/>
<rect x="46.20" y="-10.50" width="8.00" height="4.20" stroke-width="1.2" fill="#fff" rx="1.7"/>
<rect x="46.20" y="-6.30" width="8.00" height="4.20" stroke-width="1.2" fill="#fff" rx="1.7"/>
<rect x="46.20" y="-2.10" width="8.00" height="4.20" stroke-width="1.2" fill="#fff" rx="1.7"/>
<rect x="46.20" y="2.10" width="8.00" height="4.20" stroke-width="1.2" fill="#fff" rx="1.7"/>
<rect x="46.20" y="6.30" width="8.00" height="4.20" stroke-width="1.2" fill="#fff" rx="1.7"/>
<rect x="55.70" y="-7.00" width="17.50" height="14.00" stroke-width="1.4" fill="#fff" rx="1.2"/>
<circle cx="63.70" cy="0.00" r="5.80" stroke-width="1.1" fill="#fff"/>
<line x1="57.20" y1="0.00" x2="71.20" y2="0.00" stroke-width="0.5" />
<line x1="63.70" y1="-7.00" x2="63.70" y2="7.00" stroke-width="0.5" />
<rect x="65.20" y="7.00" width="4.20" height="6.50" stroke-width="1.0" fill="#fff" rx="0"/>
</g>
<path d="M614.10,323.70 A89.6,89.6 0 0 1 691.70,368.50" stroke-width="0.9" fill="none" />
<polygon points="614.10,323.70 625.10,321.70 625.10,325.70" fill="#111" stroke="none"/>
<polygon points="691.70,368.50 684.45,361.33 687.76,359.09" fill="#111" stroke="none"/>
<line x1="674.72" y1="378.30" x2="695.51" y2="366.30" stroke-width="0.9" />
<text stroke="#111" stroke-width="0" fill="#111" x="668.50" y="335.50" font-size="13" text-anchor="middle" transform="rotate(31 668.50 335.50)" style='font-family:"Liberation Sans",sans-serif' font-style="italic">60°</text>
<line x1="550.00" y1="366.00" x2="577.50" y2="366.00" stroke-width="0.9" />
<line x1="550.00" y1="461.20" x2="578.00" y2="461.20" stroke-width="0.9" />
<line x1="553.80" y1="366.00" x2="553.80" y2="461.20" stroke-width="0.9" />
<polygon points="553.80,366.00 555.80,378.00 551.80,378.00" fill="#111" stroke="none"/>
<polygon points="553.80,461.20 551.80,449.20 555.80,449.20" fill="#111" stroke="none"/>
<text stroke="#111" stroke-width="0.25" fill="#111" x="551.00" y="412.50" font-size="16" text-anchor="middle" textLength="11" lengthAdjust="spacingAndGlyphs" transform="rotate(-90 551.00 412.50)" >L</text>
<line x1="577.30" y1="461.00" x2="577.30" y2="489.00" stroke-width="0.9" />
<line x1="650.00" y1="461.00" x2="650.00" y2="489.00" stroke-width="0.9" />
<line x1="577.30" y1="485.00" x2="650.00" y2="485.00" stroke-width="0.9" />
<polygon points="577.30,485.00 586.30,483.00 586.30,487.00" fill="#111" stroke="none"/>
<polygon points="650.00,485.00 641.00,487.00 641.00,483.00" fill="#111" stroke="none"/>
<line x1="572.80" y1="461.00" x2="572.80" y2="516.50" stroke-width="0.9" />
<line x1="654.40" y1="461.00" x2="654.40" y2="516.50" stroke-width="0.9" />
<line x1="572.80" y1="512.50" x2="654.40" y2="512.50" stroke-width="0.9" />
<polygon points="572.80,512.50 581.80,510.50 581.80,514.50" fill="#111" stroke="none"/>
<polygon points="654.40,512.50 645.40,514.50 645.40,510.50" fill="#111" stroke="none"/>
<text stroke="#111" stroke-width="0.25" fill="#111" x="614.00" y="480.50" font-size="15" text-anchor="middle" textLength="11.5" lengthAdjust="spacingAndGlyphs" >G</text>
<text stroke="#111" stroke-width="0.25" fill="#111" x="615.00" y="506.30" font-size="15" text-anchor="middle" textLength="10.5" lengthAdjust="spacingAndGlyphs" >B</text>
<text stroke="#111" stroke-width="0.22" fill="#111" x="57.00" y="563.00" font-size="14" textLength="216" lengthAdjust="spacingAndGlyphs" >WZF25N..WZF90N/WZF20N..WZF310N</text>
<line x1="91.80" y1="639.70" x2="285.00" y2="639.70" stroke-width="1.4" />
<line x1="91.80" y1="717.70" x2="285.00" y2="717.70" stroke-width="1.4" />
<line x1="91.80" y1="639.70" x2="91.80" y2="717.70" stroke-width="1.4" />
<line x1="285.00" y1="639.70" x2="285.00" y2="717.70" stroke-width="1.4" />
<path d="M91.8,639.7 C 77,639.7 70,658 70,679 C 70,700 77,717.7 91.8,717.7" stroke-width="1.4" fill="none" />
<path d="M285,639.7 C 301,639.7 307.3,650 307.3,679 C 307.3,708 301,717.7 285,717.7" stroke-width="1.4" fill="none" />
<line x1="64.00" y1="679.00" x2="148.00" y2="679.00" stroke-width="0.9" />
<line x1="170.00" y1="679.00" x2="193.70" y2="679.00" stroke-width="0.9" />
<line x1="219.60" y1="679.00" x2="314.00" y2="679.00" stroke-width="0.9" />
<rect x="128.80" y="711.30" width="16.70" height="10.90" stroke-width="1.4" fill="#fff" rx="0"/>
<line x1="128.80" y1="712.60" x2="145.50" y2="712.60" stroke-width="2.0" />
<rect x="231.60" y="711.30" width="16.70" height="11.30" stroke-width="1.4" fill="#fff" rx="0"/>
<line x1="231.60" y1="712.60" x2="248.30" y2="712.60" stroke-width="2.0" />
<path d="M182.5,639.7 L182.5,632.5999999999999 A6.3,6.3 0 0 1 195.10000000000002,632.5999999999999 L195.10000000000002,639.7" stroke-width="1.4" fill="#fff" />
<circle cx="188.80" cy="635.80" r="2.40" stroke-width="1.4" fill="none"/>
<line x1="182.80" y1="635.80" x2="194.80" y2="635.80" stroke-width="0.5" />
<line x1="188.80" y1="631.30" x2="188.80" y2="642.20" stroke-width="0.5" />
<line x1="70.00" y1="647.50" x2="80.00" y2="647.50" stroke-width="1.0" />
<line x1="70.00" y1="657.10" x2="80.00" y2="657.10" stroke-width="1.0" />
<rect x="63.20" y="645.00" width="6.80" height="14.60" stroke-width="1.4" fill="#fff" rx="1.8"/>
<line x1="63.20" y1="648.94" x2="70.00" y2="648.94" stroke-width="0.8" />
<line x1="63.20" y1="655.66" x2="70.00" y2="655.66" stroke-width="0.8" />
<line x1="64.20" y1="652.30" x2="84.00" y2="652.30" stroke-width="0.5" />
<line x1="63.80" y1="683.50" x2="71.00" y2="683.50" stroke-width="1.0" />
<line x1="63.80" y1="693.70" x2="71.00" y2="693.70" stroke-width="1.0" />
<rect x="57.00" y="681.00" width="6.80" height="15.20" stroke-width="1.4" fill="#fff" rx="1.8"/>
<line x1="57.00" y1="685.10" x2="63.80" y2="685.10" stroke-width="0.8" />
<line x1="57.00" y1="692.10" x2="63.80" y2="692.10" stroke-width="0.8" />
<line x1="58.00" y1="688.60" x2="75.00" y2="688.60" stroke-width="0.5" />
<rect x="91.40" y="647.50" width="7.81" height="8.19" stroke-width="1.4" fill="#fff" rx="0"/>
<line x1="95.62" y1="647.50" x2="95.62" y2="655.70" stroke-width="0.9" />
<path d="M99.212,645.3000000000001 L111.56,645.3000000000001 L113.57600000000001,647.19 L113.57600000000001,655.695 L99.212,655.695 Z" stroke-width="1.4" fill="#fff" />
<path d="M99.212,655.695 L99.212,658.845 L105.89,663.318 L112.19,658.845 L112.19,656.64" stroke-width="1.4" fill="none" />
<path d="M100.53500000000001,656.955 L105.89,661.0500000000001 L110.93,657.27" stroke-width="1.2" fill="none" />
<circle cx="111.81" cy="658.03" r="1.26" stroke-width="1.0" fill="#fff"/>
<line x1="111.81" y1="659.16" x2="111.81" y2="662.94" stroke-width="0.5" />
<rect x="113.58" y="648.32" width="8.19" height="6.55" stroke-width="1.0" fill="#fff" rx="0"/>
<rect x="121.77" y="646.88" width="7.94" height="9.45" stroke-width="1.4" fill="#fff" rx="0"/>
<line x1="122.90" y1="646.88" x2="122.90" y2="656.33" stroke-width="0.8" />
<line x1="123.91" y1="646.88" x2="123.91" y2="656.33" stroke-width="0.8" />
<line x1="124.92" y1="646.88" x2="124.92" y2="656.33" stroke-width="0.8" />
<line x1="127.00" y1="646.88" x2="127.00" y2="656.33" stroke-width="0.8" />
<rect x="129.70" y="648.70" width="6.80" height="5.80" stroke-width="1.0" fill="#fff" rx="0"/>
<rect x="112.60" y="633.20" width="11.80" height="6.50" stroke-width="1.4" fill="#fff" rx="1.5"/>
<line x1="112.60" y1="635.30" x2="124.40" y2="635.30" stroke-width="0.8" />
<rect x="264.40" y="637.60" width="12.40" height="4.00" stroke-width="1.0" fill="#fff" rx="0"/>
<rect x="260.00" y="632.00" width="21.20" height="5.60" stroke-width="1.4" fill="#fff" rx="1"/>
<line x1="265.80" y1="632.00" x2="265.80" y2="637.60" stroke-width="0.8" />
<line x1="275.40" y1="632.00" x2="275.40" y2="637.60" stroke-width="0.8" />
<rect x="265.40" y="616.20" width="10.40" height="15.80" stroke-width="1.4" fill="#fff" rx="0.8"/>
<line x1="265.40" y1="628.70" x2="275.80" y2="628.70" stroke-width="0.8" />
<line x1="265.40" y1="625.70" x2="275.80" y2="625.70" stroke-width="0.8" />
<line x1="265.40" y1="622.70" x2="275.80" y2="622.70" stroke-width="0.8" />
<line x1="265.40" y1="619.70" x2="275.80" y2="619.70" stroke-width="0.8" />
<line x1="270.60" y1="641.00" x2="270.60" y2="645.00" stroke-width="0.6" />
<line x1="43.70" y1="639.60" x2="91.80" y2="639.60" stroke-width="0.9" />
<line x1="43.70" y1="717.60" x2="91.80" y2="717.60" stroke-width="0.9" />
<line x1="48.70" y1="639.60" x2="48.70" y2="717.60" stroke-width="0.9" />
<polygon points="48.70,639.60 50.70,651.60 46.70,651.60" fill="#111" stroke="none"/>
<polygon points="48.70,717.60 46.70,705.60 50.70,705.60" fill="#111" stroke="none"/>
<text stroke="#111" stroke-width="0.25" fill="#111" x="45.50" y="679.00" font-size="11.5" text-anchor="middle" textLength="18" lengthAdjust="spacingAndGlyphs" transform="rotate(-90 45.50 679.00)" >ϕD</text>
<line x1="91.80" y1="593.70" x2="91.80" y2="639.70" stroke-width="0.9" />
<line x1="118.00" y1="593.70" x2="118.00" y2="632.50" stroke-width="0.9" />
<line x1="91.80" y1="597.00" x2="118.00" y2="597.00" stroke-width="0.9" />
<polygon points="91.80,597.00 99.80,595.00 99.80,599.00" fill="#111" stroke="none"/>
<polygon points="118.00,597.00 110.00,599.00 110.00,595.00" fill="#111" stroke="none"/>
<text stroke="#111" stroke-width="0.25" fill="#111" x="105.00" y="593.00" font-size="12" text-anchor="middle" textLength="9.5" lengthAdjust="spacingAndGlyphs" >N</text>
<line x1="105.00" y1="617.50" x2="105.00" y2="657.50" stroke-width="0.9" />
<line x1="76.20" y1="620.00" x2="91.80" y2="620.00" stroke-width="0.9" />
<polygon points="91.80,620.00 83.80,622.00 83.80,618.00" fill="#111" stroke="none"/>
<line x1="105.00" y1="620.00" x2="118.80" y2="620.00" stroke-width="0.9" />
<polygon points="105.00,620.00 113.00,618.00 113.00,622.00" fill="#111" stroke="none"/>
<text stroke="#111" stroke-width="0.25" fill="#111" x="100.00" y="618.00" font-size="12" text-anchor="middle" textLength="8" lengthAdjust="spacingAndGlyphs" >F</text>
<text stroke="#111" stroke-width="0.25" fill="#111" x="131.00" y="606.00" font-size="12" textLength="15" lengthAdjust="spacingAndGlyphs" >SV</text>
<path d="M146,608.2 L131,608.2 L119.6,631.5" stroke-width="0.9" fill="none" />
<polygon points="119.50,631.80 121.21,623.73 124.80,625.49" fill="#111" stroke="none"/>
<text stroke="#111" stroke-width="0.25" fill="#111" x="56.00" y="617.50" font-size="12" textLength="14" lengthAdjust="spacingAndGlyphs" >FL</text>
<path d="M56,623.8 L67.5,623.8 L90,652.3" stroke-width="0.9" fill="none" />
<polygon points="90.10,652.50 83.57,647.46 86.71,644.98" fill="#111" stroke="none"/>
<line x1="270.30" y1="593.00" x2="270.30" y2="615.00" stroke-width="0.9" />
<line x1="307.30" y1="593.00" x2="307.30" y2="796.50" stroke-width="0.9" />
<line x1="270.30" y1="596.00" x2="307.30" y2="596.00" stroke-width="0.9" />
<polygon points="270.30,596.00 278.30,594.00 278.30,598.00" fill="#111" stroke="none"/>
<polygon points="307.30,596.00 299.30,598.00 299.30,594.00" fill="#111" stroke="none"/>
<text stroke="#111" stroke-width="0.25" fill="#111" x="289.40" y="594.00" font-size="12" text-anchor="middle" textLength="9" lengthAdjust="spacingAndGlyphs" >E</text>
<text stroke="#111" stroke-width="0.25" fill="#111" x="237.00" y="581.40" font-size="12" textLength="14.5" lengthAdjust="spacingAndGlyphs" >KL</text>
<path d="M237,588 L248,588 L270,614.6" stroke-width="0.9" fill="none" />
<polygon points="270.20,614.90 263.56,610.01 266.64,607.46" fill="#111" stroke="none"/>
<line x1="128.80" y1="722.00" x2="128.80" y2="748.00" stroke-width="0.9" />
<line x1="145.50" y1="722.00" x2="145.50" y2="748.00" stroke-width="0.9" />
<line x1="107.50" y1="744.20" x2="128.80" y2="744.20" stroke-width="0.9" />
<polygon points="128.80,744.20 120.80,746.20 120.80,742.20" fill="#111" stroke="none"/>
<line x1="145.50" y1="744.20" x2="165.60" y2="744.20" stroke-width="0.9" />
<polygon points="145.50,744.20 153.50,742.20 153.50,746.20" fill="#111" stroke="none"/>
<text stroke="#111" stroke-width="0.25" fill="#111" x="137.60" y="742.60" font-size="12" text-anchor="middle" textLength="9.5" lengthAdjust="spacingAndGlyphs" >X</text>
<text stroke="#111" stroke-width="0.25" fill="#111" x="183.00" y="740.00" font-size="12" textLength="14" lengthAdjust="spacingAndGlyphs" >ϕJ</text>
<path d="M183,747.3 L198.5,747.3 L239,723" stroke-width="0.9" fill="none" />
<line x1="248.20" y1="722.60" x2="248.20" y2="739.00" stroke-width="0.9" />
<line x1="227.60" y1="735.30" x2="239.20" y2="735.30" stroke-width="0.9" />
<polygon points="239.20,735.30 231.20,737.30 231.20,733.30" fill="#111" stroke="none"/>
<line x1="248.20" y1="735.30" x2="278.00" y2="735.30" stroke-width="0.9" />
<polygon points="248.20,735.30 256.20,733.30 256.20,737.30" fill="#111" stroke="none"/>
<text stroke="#111" stroke-width="0.25" fill="#111" x="273.40" y="732.30" font-size="12" text-anchor="middle" textLength="8.5" lengthAdjust="spacingAndGlyphs" >Y</text>
<line x1="136.50" y1="759.70" x2="136.50" y2="777.00" stroke-width="0.9" />
<line x1="239.20" y1="722.60" x2="239.20" y2="775.00" stroke-width="0.9" />
<line x1="136.50" y1="771.40" x2="239.20" y2="771.40" stroke-width="0.9" />
<polygon points="136.50,771.40 145.50,769.40 145.50,773.40" fill="#111" stroke="none"/>
<polygon points="239.20,771.40 230.20,773.40 230.20,769.40" fill="#111" stroke="none"/>
<text stroke="#111" stroke-width="0.25" fill="#111" x="187.00" y="768.00" font-size="10.5" text-anchor="middle" textLength="8.5" lengthAdjust="spacingAndGlyphs" >H</text>
<line x1="285.00" y1="717.70" x2="285.00" y2="773.30" stroke-width="0.9" />
<line x1="285.00" y1="771.40" x2="307.30" y2="771.40" stroke-width="0.9" />
<polygon points="285.00,771.40 292.00,769.40 292.00,773.40" fill="#111" stroke="none"/>
<polygon points="307.30,771.40 300.30,773.40 300.30,769.40" fill="#111" stroke="none"/>
<text stroke="#111" stroke-width="0.25" fill="#111" x="297.30" y="767.30" font-size="12" text-anchor="middle" >I</text>
<line x1="70.00" y1="690.00" x2="70.00" y2="796.50" stroke-width="0.9" />
<line x1="70.00" y1="792.70" x2="307.30" y2="792.70" stroke-width="0.9" />
<polygon points="70.00,792.70 82.00,790.70 82.00,794.70" fill="#111" stroke="none"/>
<polygon points="307.30,792.70 295.30,794.70 295.30,790.70" fill="#111" stroke="none"/>
<text stroke="#111" stroke-width="0.25" fill="#111" x="187.00" y="789.80" font-size="11" text-anchor="middle" textLength="9" lengthAdjust="spacingAndGlyphs" >A</text>
<text stroke="#111" stroke-width="0.22" fill="#111" x="358.00" y="561.60" font-size="14" textLength="100" lengthAdjust="spacingAndGlyphs" >WZF55N..WZF90N</text>
<circle cx="402.60" cy="680.40" r="39.60" stroke-width="1.5" fill="#fff"/>
<rect x="396.10" y="637.90" width="13.00" height="4.00" stroke-width="1.0" fill="#fff" rx="0"/>
<rect x="393.40" y="632.60" width="18.40" height="5.30" stroke-width="1.4" fill="#fff" rx="1.5"/>
<line x1="399.10" y1="632.60" x2="399.10" y2="637.90" stroke-width="0.8" />
<line x1="406.10" y1="632.60" x2="406.10" y2="637.90" stroke-width="0.8" />
<rect x="395.40" y="626.90" width="14.40" height="5.70" stroke-width="1.4" fill="#fff" rx="1.5"/>
<line x1="400.10" y1="626.90" x2="400.10" y2="632.60" stroke-width="0.8" />
<line x1="405.10" y1="626.90" x2="405.10" y2="632.60" stroke-width="0.8" />
<rect x="397.00" y="616.90" width="11.20" height="10.00" stroke-width="1.4" fill="#fff" rx="1"/>
<line x1="397.00" y1="624.40" x2="408.20" y2="624.40" stroke-width="0.8" />
<line x1="397.00" y1="621.90" x2="408.20" y2="621.90" stroke-width="0.8" />
<line x1="397.00" y1="619.40" x2="408.20" y2="619.40" stroke-width="0.8" />
<path d="M375.8,722.7 l6,0 q4.18,0 4.18,-4.4 l-2.64,-4.4" stroke-width="2.7" fill="none" stroke-linejoin="round"/>
<path d="M375.8,722.7 l6,0 q4.18,0 4.18,-4.4 l-2.64,-4.4" stroke-width="0.9" fill="none" stroke="#fff" stroke-linejoin="round"/>
<line x1="375.60" y1="721.35" x2="375.60" y2="724.05" stroke-width="0.9" />
<path d="M428.2,722.7 l-6,0 q-4.18,0 -4.18,-4.4 l2.64,-4.4" stroke-width="2.7" fill="none" stroke-linejoin="round"/>
<path d="M428.2,722.7 l-6,0 q-4.18,0 -4.18,-4.4 l2.64,-4.4" stroke-width="0.9" fill="none" stroke="#fff" stroke-linejoin="round"/>
<line x1="428.40" y1="721.35" x2="428.40" y2="724.05" stroke-width="0.9" />
<line x1="349.00" y1="680.40" x2="441.50" y2="680.40" stroke-width="0.9" />
<line x1="402.60" y1="581.00" x2="402.60" y2="722.50" stroke-width="0.9" />
<polygon points="394.20,654.00 398.40,646.80 406.80,646.80 411.00,654.00 406.80,661.20 398.40,661.20" stroke-width="1.6" fill="#fff" stroke-linejoin="round"/>
<circle cx="402.60" cy="654.00" r="4.80" stroke-width="1.5" fill="none"/>
<polygon points="394.20,691.00 398.40,683.80 406.80,683.80 411.00,691.00 406.80,698.20 398.40,698.20" stroke-width="1.6" fill="#fff" stroke-linejoin="round"/>
<circle cx="402.60" cy="691.00" r="4.80" stroke-width="1.5" fill="none"/>
<line x1="399.50" y1="654.00" x2="405.50" y2="654.00" stroke-width="0.9" />
<line x1="402.60" y1="646.00" x2="402.60" y2="662.00" stroke-width="0.9" />
<line x1="399.50" y1="691.00" x2="405.50" y2="691.00" stroke-width="0.9" />
<line x1="402.60" y1="683.00" x2="402.60" y2="699.00" stroke-width="0.9" />
<g transform="translate(402.60 680.40) rotate(-30)">
<rect x="39.10" y="-3.00" width="3.00" height="6.00" stroke-width="1.0" fill="#fff" rx="0"/>
<rect x="42.10" y="-6.40" width="5.00" height="3.20" stroke-width="1.0" fill="#fff" rx="1.2"/>
<rect x="42.10" y="-3.20" width="5.00" height="3.20" stroke-width="1.0" fill="#fff" rx="1.2"/>
<rect x="42.10" y="0.00" width="5.00" height="3.20" stroke-width="1.0" fill="#fff" rx="1.2"/>
<rect x="42.10" y="3.20" width="5.00" height="3.20" stroke-width="1.0" fill="#fff" rx="1.2"/>
<rect x="48.10" y="-4.50" width="10.00" height="9.00" stroke-width="1.4" fill="#fff" rx="1"/>
<line x1="48.10" y1="0.00" x2="58.10" y2="0.00" stroke-width="0.5" />
<line x1="53.10" y1="-4.50" x2="53.10" y2="4.50" stroke-width="0.5" />
<rect x="53.10" y="4.50" width="3.00" height="4.00" stroke-width="1.0" fill="#fff" rx="0"/>
</g>
<path d="M402.60,587.80 A92.6,92.6 0 0 1 482.79,634.10" stroke-width="0.9" fill="none" />
<polygon points="402.60,587.80 412.60,585.80 412.60,589.80" fill="#111" stroke="none"/>
<polygon points="482.79,634.10 475.54,626.93 478.86,624.69" fill="#111" stroke="none"/>
<line x1="451.96" y1="651.90" x2="487.47" y2="631.40" stroke-width="0.9" />
<text stroke="#111" stroke-width="0" fill="#111" x="455.00" y="595.00" font-size="13" text-anchor="middle" transform="rotate(31 455.00 595.00)" style='font-family:"Liberation Sans",sans-serif' font-style="italic">60°</text>
<line x1="349.00" y1="723.60" x2="378.00" y2="723.60" stroke-width="0.9" />
<line x1="352.00" y1="680.40" x2="352.00" y2="723.60" stroke-width="0.9" />
<polygon points="352.00,680.40 354.00,688.40 350.00,688.40" fill="#111" stroke="none"/>
<polygon points="352.00,723.60 350.00,715.60 354.00,715.60" fill="#111" stroke="none"/>
<text stroke="#111" stroke-width="0.25" fill="#111" x="350.50" y="703.00" font-size="12.5" text-anchor="middle" textLength="8.5" lengthAdjust="spacingAndGlyphs" transform="rotate(-90 350.50 703.00)" >L</text>
<line x1="378.60" y1="724.00" x2="378.60" y2="775.60" stroke-width="0.9" />
<line x1="424.60" y1="724.00" x2="424.60" y2="775.60" stroke-width="0.9" />
<line x1="378.60" y1="771.60" x2="424.60" y2="771.60" stroke-width="0.9" />
<polygon points="378.60,771.60 385.60,769.60 385.60,773.60" fill="#111" stroke="none"/>
<polygon points="424.60,771.60 417.60,773.60 417.60,769.60" fill="#111" stroke="none"/>
<line x1="375.60" y1="724.00" x2="375.60" y2="797.00" stroke-width="0.9" />
<line x1="427.60" y1="724.00" x2="427.60" y2="797.00" stroke-width="0.9" />
<line x1="375.60" y1="793.00" x2="427.60" y2="793.00" stroke-width="0.9" />
<polygon points="375.60,793.00 382.60,791.00 382.60,795.00" fill="#111" stroke="none"/>
<polygon points="427.60,793.00 420.60,795.00 420.60,791.00" fill="#111" stroke="none"/>
<text stroke="#111" stroke-width="0.25" fill="#111" x="401.00" y="768.00" font-size="12.5" text-anchor="middle" textLength="10" lengthAdjust="spacingAndGlyphs" >G</text>
<text stroke="#111" stroke-width="0.25" fill="#111" x="400.40" y="791.00" font-size="12.5" text-anchor="middle" textLength="9" lengthAdjust="spacingAndGlyphs" >B</text>
<text stroke="#111" stroke-width="0.22" fill="#111" x="496.00" y="563.00" font-size="14" textLength="114" lengthAdjust="spacingAndGlyphs" >WZF120N..WZF160N</text>
<path d="M539.4,634.8 L539.4,621.5999999999999 L568.6,621.5999999999999 L568.6,634.8" stroke-width="1.5999999999999999" fill="#fff" />
<rect x="547.00" y="628.40" width="14.00" height="5.00" stroke-width="1.1" fill="#fff" rx="0"/>
<rect x="544.00" y="623.20" width="20.00" height="5.00" stroke-width="1.4" fill="#fff" rx="1.2"/>
<line x1="550.40" y1="623.20" x2="550.40" y2="628.20" stroke-width="0.9" />
<line x1="557.60" y1="623.20" x2="557.60" y2="628.20" stroke-width="0.9" />
<rect x="548.00" y="620.20" width="12.00" height="2.40" stroke-width="1.0" fill="#fff" rx="0"/>
<rect x="539.80" y="609.60" width="12.00" height="9.50" stroke-width="1.5999999999999999" fill="#fff" rx="2"/>
<line x1="545.00" y1="610.80" x2="545.00" y2="617.80" stroke-width="0.8" />
<rect x="548.40" y="607.80" width="12.60" height="12.40" stroke-width="1.7" fill="#fff" rx="3"/>
<circle cx="554.20" cy="614.40" r="4.30" stroke-width="1.3" fill="#fff"/>
<rect x="561.00" y="609.80" width="7.80" height="8.60" stroke-width="1.5999999999999999" fill="#fff" rx="1.5"/>
<rect x="561.40" y="612.00" width="4.00" height="4.00" stroke-width="0.9" fill="#333" rx="0"/>
<line x1="551.00" y1="614.40" x2="557.40" y2="614.40" stroke-width="0.5" />
<circle cx="554.00" cy="680.40" r="47.60" stroke-width="1.5" fill="#fff"/>
<path d="M517.2,733 l10.5,0 l0,-10 l-5,-3" stroke-width="2.7" fill="none" stroke-linejoin="round"/>
<path d="M517.2,733 l10.5,0 l0,-10 l-5,-3" stroke-width="0.9" fill="none" stroke="#fff" stroke-linejoin="round"/>
<path d="M589.4,733 l-10.5,0 l0,-10 l5,-3" stroke-width="2.7" fill="none" stroke-linejoin="round"/>
<path d="M589.4,733 l-10.5,0 l0,-10 l5,-3" stroke-width="0.9" fill="none" stroke="#fff" stroke-linejoin="round"/>
<line x1="487.00" y1="680.40" x2="609.00" y2="680.40" stroke-width="0.9" />
<line x1="554.00" y1="608.00" x2="554.00" y2="730.50" stroke-width="0.9" />
<polygon points="546.10,649.00 550.05,642.00 557.95,642.00 561.90,649.00 557.95,656.00 550.05,656.00" stroke-width="1.6" fill="#fff" stroke-linejoin="round"/>
<circle cx="554.00" cy="649.00" r="4.60" stroke-width="1.5" fill="none"/>
<polygon points="546.10,695.40 550.05,688.40 557.95,688.40 561.90,695.40 557.95,702.40 550.05,702.40" stroke-width="1.6" fill="#fff" stroke-linejoin="round"/>
<circle cx="554.00" cy="695.40" r="4.60" stroke-width="1.5" fill="none"/>
<line x1="551.00" y1="649.00" x2="557.00" y2="649.00" stroke-width="0.9" />
<line x1="554.00" y1="641.00" x2="554.00" y2="657.00" stroke-width="0.9" />
<line x1="551.00" y1="695.40" x2="557.00" y2="695.40" stroke-width="0.9" />
<line x1="554.00" y1="687.40" x2="554.00" y2="703.40" stroke-width="0.9" />
<line x1="485.00" y1="733.70" x2="522.00" y2="733.70" stroke-width="0.9" />
<line x1="489.60" y1="680.40" x2="489.60" y2="733.70" stroke-width="0.9" />
<polygon points="489.60,680.40 491.60,688.40 487.60,688.40" fill="#111" stroke="none"/>
<polygon points="489.60,733.70 487.60,725.70 491.60,725.70" fill="#111" stroke="none"/>
<text stroke="#111" stroke-width="0.25" fill="#111" x="488.00" y="704.50" font-size="12.5" text-anchor="middle" textLength="8.5" lengthAdjust="spacingAndGlyphs" transform="rotate(-90 488.00 704.50)" >L</text>
<line x1="521.00" y1="734.00" x2="521.00" y2="776.00" stroke-width="0.9" />
<line x1="585.00" y1="734.00" x2="585.00" y2="776.00" stroke-width="0.9" />
<line x1="521.00" y1="772.00" x2="585.00" y2="772.00" stroke-width="0.9" />
<polygon points="521.00,772.00 529.00,770.00 529.00,774.00" fill="#111" stroke="none"/>
<polygon points="585.00,772.00 577.00,774.00 577.00,770.00" fill="#111" stroke="none"/>
<line x1="517.00" y1="734.00" x2="517.00" y2="797.50" stroke-width="0.9" />
<line x1="588.30" y1="734.00" x2="588.30" y2="797.50" stroke-width="0.9" />
<line x1="517.00" y1="793.60" x2="588.30" y2="793.60" stroke-width="0.9" />
<polygon points="517.00,793.60 525.00,791.60 525.00,795.60" fill="#111" stroke="none"/>
<polygon points="588.30,793.60 580.30,795.60 580.30,791.60" fill="#111" stroke="none"/>
<text stroke="#111" stroke-width="0.25" fill="#111" x="553.00" y="768.50" font-size="12.5" text-anchor="middle" textLength="10" lengthAdjust="spacingAndGlyphs" >G</text>
<text stroke="#111" stroke-width="0.25" fill="#111" x="553.00" y="791.70" font-size="12.5" text-anchor="middle" textLength="9" lengthAdjust="spacingAndGlyphs" >B</text>
<text stroke="#111" stroke-width="0.22" fill="#111" x="628.50" y="563.00" font-size="14" textLength="121" lengthAdjust="spacingAndGlyphs" >WZF220N..WZF3100N</text>
<path d="M673.1,635.0 L673.1,621.8 L702.3000000000001,621.8 L702.3000000000001,635.0" stroke-width="1.5999999999999999" fill="#fff" />
<rect x="680.70" y="628.60" width="14.00" height="5.00" stroke-width="1.1" fill="#fff" rx="0"/>
<rect x="677.70" y="623.40" width="20.00" height="5.00" stroke-width="1.4" fill="#fff" rx="1.2"/>
<line x1="684.10" y1="623.40" x2="684.10" y2="628.40" stroke-width="0.9" />
<line x1="691.30" y1="623.40" x2="691.30" y2="628.40" stroke-width="0.9" />
<rect x="681.70" y="620.40" width="12.00" height="2.40" stroke-width="1.0" fill="#fff" rx="0"/>
<rect x="673.50" y="609.80" width="12.00" height="9.50" stroke-width="1.5999999999999999" fill="#fff" rx="2"/>
<line x1="678.70" y1="611.00" x2="678.70" y2="618.00" stroke-width="0.8" />
<rect x="682.10" y="608.00" width="12.60" height="12.40" stroke-width="1.7" fill="#fff" rx="3"/>
<circle cx="687.90" cy="614.60" r="4.30" stroke-width="1.3" fill="#fff"/>
<rect x="694.70" y="610.00" width="7.80" height="8.60" stroke-width="1.5999999999999999" fill="#fff" rx="1.5"/>
<rect x="695.10" y="612.20" width="4.00" height="4.00" stroke-width="0.9" fill="#333" rx="0"/>
<line x1="684.70" y1="614.60" x2="691.10" y2="614.60" stroke-width="0.5" />
<circle cx="687.70" cy="680.50" r="47.50" stroke-width="1.5" fill="#fff"/>
<path d="M651,733 l11.5,0 l0,-10 l-5,-3" stroke-width="2.7" fill="none" stroke-linejoin="round"/>
<path d="M651,733 l11.5,0 l0,-10 l-5,-3" stroke-width="0.9" fill="none" stroke="#fff" stroke-linejoin="round"/>
<path d="M724,733 l-11.5,0 l0,-10 l5,-3" stroke-width="2.7" fill="none" stroke-linejoin="round"/>
<path d="M724,733 l-11.5,0 l0,-10 l5,-3" stroke-width="0.9" fill="none" stroke="#fff" stroke-linejoin="round"/>
<line x1="621.40" y1="680.50" x2="743.00" y2="680.50" stroke-width="0.9" />
<line x1="687.70" y1="608.00" x2="687.70" y2="730.50" stroke-width="0.9" />
<polygon points="679.70,649.30 683.70,642.30 691.70,642.30 695.70,649.30 691.70,656.30 683.70,656.30" stroke-width="1.7" fill="#fff" stroke-linejoin="round"/>
<circle cx="687.70" cy="649.30" r="4.30" stroke-width="2.2" fill="none"/>
<polygon points="679.70,695.60 683.70,688.60 691.70,688.60 695.70,695.60 691.70,702.60 683.70,702.60" stroke-width="1.7" fill="#fff" stroke-linejoin="round"/>
<circle cx="687.70" cy="695.60" r="4.30" stroke-width="2.2" fill="none"/>
<line x1="685.00" y1="649.30" x2="690.50" y2="649.30" stroke-width="0.9" />
<line x1="687.70" y1="641.00" x2="687.70" y2="657.00" stroke-width="0.9" />
<line x1="685.00" y1="695.60" x2="690.50" y2="695.60" stroke-width="0.9" />
<line x1="687.70" y1="687.60" x2="687.70" y2="703.60" stroke-width="0.9" />
<line x1="623.00" y1="733.70" x2="656.00" y2="733.70" stroke-width="0.9" />
<line x1="631.40" y1="680.40" x2="631.40" y2="733.70" stroke-width="0.9" />
<polygon points="631.40,680.40 633.40,688.40 629.40,688.40" fill="#111" stroke="none"/>
<polygon points="631.40,733.70 629.40,725.70 633.40,725.70" fill="#111" stroke="none"/>
<text stroke="#111" stroke-width="0.25" fill="#111" x="628.00" y="705.00" font-size="12.5" text-anchor="middle" textLength="8.5" lengthAdjust="spacingAndGlyphs" transform="rotate(-90 628.00 705.00)" >L</text>
<line x1="655.00" y1="734.00" x2="655.00" y2="776.00" stroke-width="0.9" />
<line x1="719.20" y1="734.00" x2="719.20" y2="776.00" stroke-width="0.9" />
<line x1="655.00" y1="772.30" x2="719.20" y2="772.30" stroke-width="0.9" />
<polygon points="655.00,772.30 663.00,770.30 663.00,774.30" fill="#111" stroke="none"/>
<polygon points="719.20,772.30 711.20,774.30 711.20,770.30" fill="#111" stroke="none"/>
<line x1="651.00" y1="734.00" x2="651.00" y2="798.00" stroke-width="0.9" />
<line x1="724.00" y1="734.00" x2="724.00" y2="798.00" stroke-width="0.9" />
<line x1="651.00" y1="794.20" x2="724.00" y2="794.20" stroke-width="0.9" />
<polygon points="651.00,794.20 659.00,792.20 659.00,796.20" fill="#111" stroke="none"/>
<polygon points="724.00,794.20 716.00,796.20 716.00,792.20" fill="#111" stroke="none"/>
<text stroke="#111" stroke-width="0.25" fill="#111" x="687.00" y="768.60" font-size="12.5" text-anchor="middle" textLength="10" lengthAdjust="spacingAndGlyphs" >G</text>
<text stroke="#111" stroke-width="0.25" fill="#111" x="686.50" y="792.00" font-size="12.5" text-anchor="middle" textLength="9" lengthAdjust="spacingAndGlyphs" >B</text>
</g>
</svg>
</body></html>
